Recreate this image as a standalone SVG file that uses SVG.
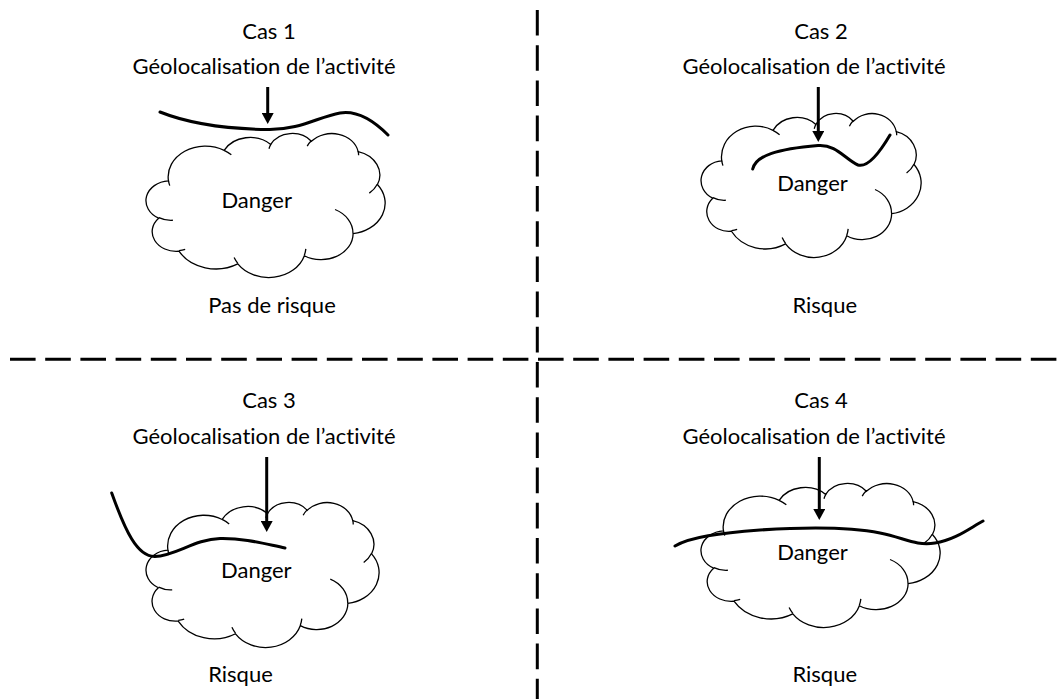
<svg xmlns="http://www.w3.org/2000/svg" xmlns:xlink="http://www.w3.org/1999/xlink" width="1063" height="699" viewBox="0 0 1063 699">
<style>
text{font-family:Lato,"Liberation Sans",sans-serif;font-size:22px;fill:#000;text-anchor:middle;font-variant-ligatures:none;font-feature-settings:"liga" 0,"dlig" 0}
.cloud{fill:#fff;stroke:#000;stroke-width:1.3;vector-effect:non-scaling-stroke}
.inner{fill:none;stroke:#000;stroke-width:1.3;vector-effect:non-scaling-stroke}
.act{fill:none;stroke:#000;stroke-width:3;stroke-linecap:round}
.arrow{fill:none;stroke:#000;stroke-width:3;marker-end:url(#head)}
.sep{fill:none;stroke:#000;stroke-width:3;stroke-dasharray:25.6 9.6}
</style>
<defs>
<marker id="head" markerUnits="userSpaceOnUse" markerWidth="12" markerHeight="12" refX="3" refY="6" orient="auto">
<path d="M0,0 L11,6 L0,12 Z" fill="#000"/>
</marker>
<g id="cloud">
<path class="cloud" d="M3900,14370 A6753,9190 0 0 1 14005,5203 A5333,7267 0 0 1 22458,3434 A4365,5945 0 0 1 29835,2483 A4857,6595 0 0 1 38319,5578 A5333,7273 0 0 1 41820,15462 A6775,9220 0 0 1 37406,30205 A5785,7867 0 0 1 28557,36815 A6752,9215 0 0 1 16482,39267 A7720,10543 0 0 1 5806,35473 A4360,5918 0 0 1 2115,25551 A4345,5945 0 0 1 3900,14370 Z"/>
<path class="inner" d="M4693,26177 A4345,5945 0 0 1 2160,25380 M6928,34899 A4360,5918 0 0 1 5820,35280 M16478,39090 A6752,9215 0 0 1 15810,37349 M28827,34751 A6752,9215 0 0 1 28560,36660 M34129,22954 A5785,7867 0 0 1 37381,30090 M41798,15354 A5333,7273 0 0 1 40350,18030 M38324,5426 A4857,6595 0 0 1 38400,6690 M29078,3952 A4857,6595 0 0 1 29820,2339 M22141,4720 A4365,5945 0 0 1 22500,3330 M14000,5192 A6753,9190 0 0 1 15306,6551 M4127,15789 A6753,9190 0 0 1 3900,14370"/>
</g>
</defs>
<rect width="1063" height="699" fill="#fff"/>

<g id="separators">
<path class="sep" d="M537.3,10 V699"/>
<path class="sep" d="M10,359.3 H1063"/>
</g>

<g id="case1">
<g id="case1-title"><text x="269" y="39">Cas 1</text></g>
<g id="case1-geo"><text x="264" y="74.3">Géolocalisation de l’activité</text></g>
<g id="case1-danger"><use xlink:href="#cloud" href="#cloud" transform="translate(147,133) scale(0.00551,0.003333)"/><text x="256.7" y="208.3">Danger</text></g>
<g id="case1-activity"><path class="act" d="M160,112 C190,124 230,129 268,129.5 C300,130 318,117 340,113 C358,110 374,121 388,135"/></g>
<g id="case1-result"><text x="272" y="313.3">Pas de risque</text></g>
</g>

<g id="case2">
<g id="case2-title"><text x="821" y="39">Cas 2</text></g>
<g id="case2-geo"><text x="814" y="74.3">Géolocalisation de l’activité</text></g>
<g id="case2-danger"><use xlink:href="#cloud" href="#cloud" transform="translate(702,113) scale(0.00507,0.003333)"/><text x="812.5" y="190.7">Danger</text></g>
<g id="case2-activity"><path class="act" d="M752.7,169 C756,155 778,149 818,145.5 C836,144 846,160 858,165 C868,168 880,152 890,135"/></g>
<g id="case2-result"><text x="824.7" y="313.3">Risque</text></g>
</g>

<g id="case3">
<g id="case3-title"><text x="269" y="408">Cas 3</text></g>
<g id="case3-geo"><text x="264" y="443.5">Géolocalisation de l’activité</text></g>
<g id="case3-danger"><use xlink:href="#cloud" href="#cloud" transform="translate(147,502) scale(0.00537,0.003356)"/><text x="256.3" y="578.3">Danger</text></g>
<g id="case3-activity"><path class="act" d="M111.7,493 C125,530 137,557 155,556.5 C175,556 195,539 220,538.5 C245,538 265,544 285,548"/></g>
<g id="case3-result"><text x="240.5" y="682.3">Risque</text></g>
</g>

<g id="case4">
<g id="case4-title"><text x="821" y="408">Cas 4</text></g>
<g id="case4-geo"><text x="814" y="443.5">Géolocalisation de l’activité</text></g>
<g id="case4-danger"><use xlink:href="#cloud" href="#cloud" transform="translate(702,483) scale(0.00551,0.003333)"/><text x="812.5" y="560">Danger</text></g>
<g id="case4-activity"><path class="act" d="M675,546 C690,537 720,533 760,530 C800,527.5 850,527 880,533 C905,538 915,546 935,543 C955,540 970,528 983,521"/></g>
<g id="case4-result"><text x="824.7" y="682.3">Risque</text></g>
</g>

<g id="connectors">
<path class="arrow" d="M267.7,87 V116"/>
<path class="arrow" d="M818.3,87 V134"/>
<path class="arrow" d="M266.7,457 V524"/>
<path class="arrow" d="M819.3,457 V512"/>
</g>
</svg>
